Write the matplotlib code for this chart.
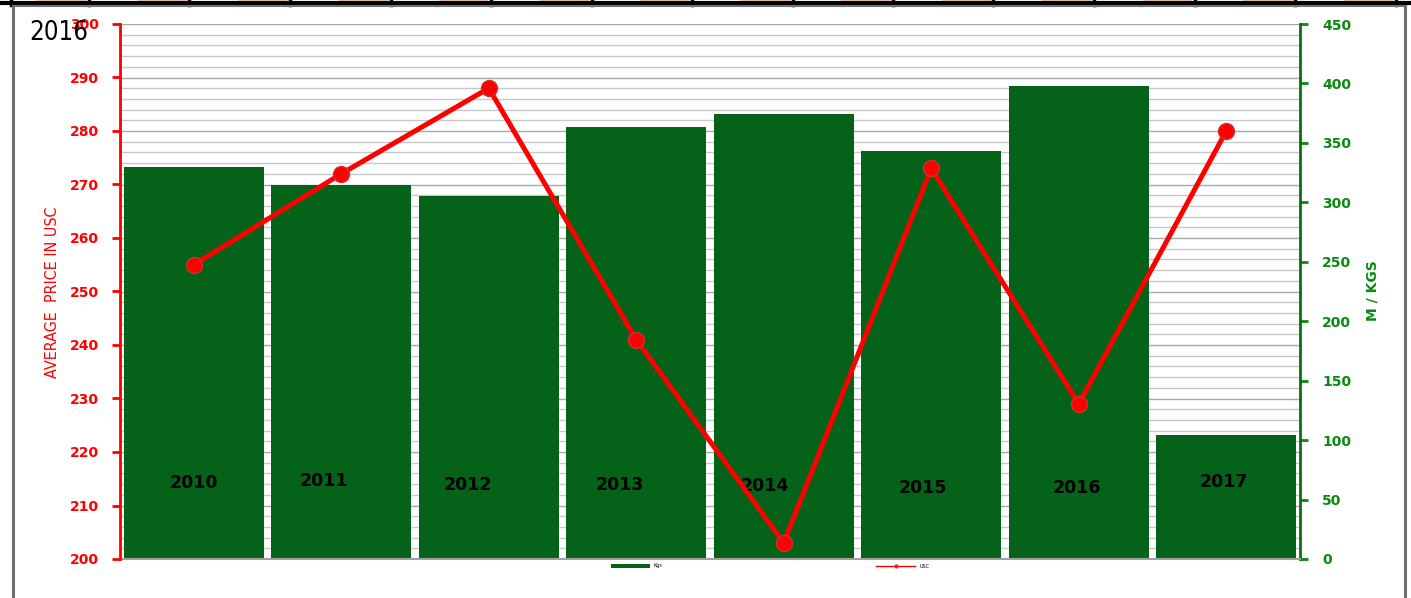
import matplotlib.pyplot as plt
import numpy as np
from matplotlib.lines import Line2D
from matplotlib.patches import Rectangle

years = ["2010", "2011", "2012", "2013", "2014", "2015", "2016", "2017"]
kgs = [330, 315, 305, 363, 374, 343, 398, 104]
usc = [255, 272, 288, 241, 203, 273, 229, 280]
# where the year labels sit inside the bars (nudged like in the source sheet)
label_y = [64, 66, 62, 62, 61, 60, 60, 65]
label_dx = [0, -0.115, -0.14, -0.11, -0.13, -0.055, -0.01, -0.015]

W, H = 1411, 598
bar_green = "#046319"
tick_green = "#0b8a12"

fig = plt.figure(figsize=(W / 100, H / 100), dpi=100)
ax = fig.add_axes([120 / W, 1 - 559 / H, 1180 / W, 535 / H])
ax2 = ax.twinx()

# bars on the right-hand scale
x = np.arange(len(years))
ax.set_ylim(0, 450)
ax.set_xlim(-0.5, len(years) - 0.5)
for v in np.arange(0, 451, 9):
    c = "#a8a8a8" if v % 45 == 0 else "#c8c8c8"
    ax.axhline(v, color=c, lw=1.0, zorder=0)
ax.bar(x, kgs, width=0.95, color=bar_green, zorder=2, label="Kgs")
for i, yr in enumerate(years):
    ax.text(i + label_dx[i], label_y[i], yr, ha="center", va="center", fontsize=12.5,
            fontweight="bold", color="black", zorder=3)

ax.yaxis.tick_right()
ax.set_yticks(np.arange(0, 451, 50))
ax.tick_params(axis="y", colors=tick_green, labelsize=10, length=6, width=2, pad=10)
for t in ax.get_yticklabels():
    t.set_fontweight("bold")
ax.set_xticks([])
ax.spines["top"].set_visible(False)
ax.spines["left"].set_visible(False)
ax.spines["right"].set_color("#0a6e14")
ax.spines["right"].set_linewidth(2)
ax.spines["bottom"].set_color("#a0a0a0")
ax.spines["bottom"].set_linewidth(1.5)
fig.text(1372 / W, 1 - 291 / H, "M / KGS", rotation=90, ha="center", va="center",
         color=tick_green, fontsize=10, fontweight="bold")

# price line on the left-hand scale
ax2.set_ylim(200, 300)
ax2.plot(x, usc, color="#ff0000", lw=3.6, marker="o", markersize=11.5,
         markerfacecolor="#ff0000", markeredgecolor="#d03030", markeredgewidth=1,
         clip_on=False, label="USC")
ax2.yaxis.tick_left()
ax2.set_yticks(np.arange(200, 301, 10))
ax2.tick_params(axis="y", colors="#ff0000", labelsize=10, length=6, width=2, pad=9)
for t in ax2.get_yticklabels():
    t.set_fontweight("bold")
for s in ["top", "right", "bottom"]:
    ax2.spines[s].set_visible(False)
ax2.spines["left"].set_color("#ff0000")
ax2.spines["left"].set_linewidth(2)
fig.text(53 / W, 1 - 292 / H, "AVERAGE  PRICE IN USC", rotation=90, ha="center",
         va="center", color="#ff0000", fontsize=11.5, fontstretch="condensed")

fig.text(29 / W, 1 - 33 / H, "2016", ha="left", va="center", fontsize=18.5,
         fontstretch="condensed", color="black")

# tiny legend under the plot
h1, l1 = ax.get_legend_handles_labels()
h2, l2 = ax2.get_legend_handles_labels()
leg = fig.legend(h1 + h2, l1 + l2, loc="center", bbox_to_anchor=(770 / W, 1 - 566 / H),
                 ncol=2, fontsize=3.5, frameon=False, handlelength=8,
                 handleheight=0.8, columnspacing=44, handletextpad=0.8)
for line in leg.get_lines():
    line.set_linewidth(1)
    line.set_markersize(2)

# spreadsheet frame around the chart
def px(xp, yp):
    return xp / W, 1 - yp / H

fig.add_artist(Line2D([0, 1], [1 - 3 / H] * 2, color="black", lw=3, transform=fig.transFigure))
for k in range(14):
    d = 89 + 100.5 * k
    x0, y0 = px(d - 52, 1.5)
    fig.add_artist(Rectangle((x0, y0), 48 / W, 1.5 / H, color="#f6c9a2",
                             transform=fig.transFigure))
for d in [11] + [89 + 100.5 * k for k in range(14)]:
    fig.add_artist(Line2D([d / W] * 2, [1, 1 - 5 / H], color="black", lw=2.5,
                          transform=fig.transFigure))
fig.add_artist(Line2D([13 / W, 1405 / W], [1 - 6 / H] * 2, color="#707070", lw=1.5,
                      transform=fig.transFigure))
fig.add_artist(Line2D([13 / W] * 2, [0, 1 - 6 / H], color="#707070", lw=2.2,
                      transform=fig.transFigure))
fig.add_artist(Line2D([1405 / W] * 2, [0, 1 - 6 / H], color="#707070", lw=2.2,
                      transform=fig.transFigure))

fig.savefig("out.png", dpi=100)
